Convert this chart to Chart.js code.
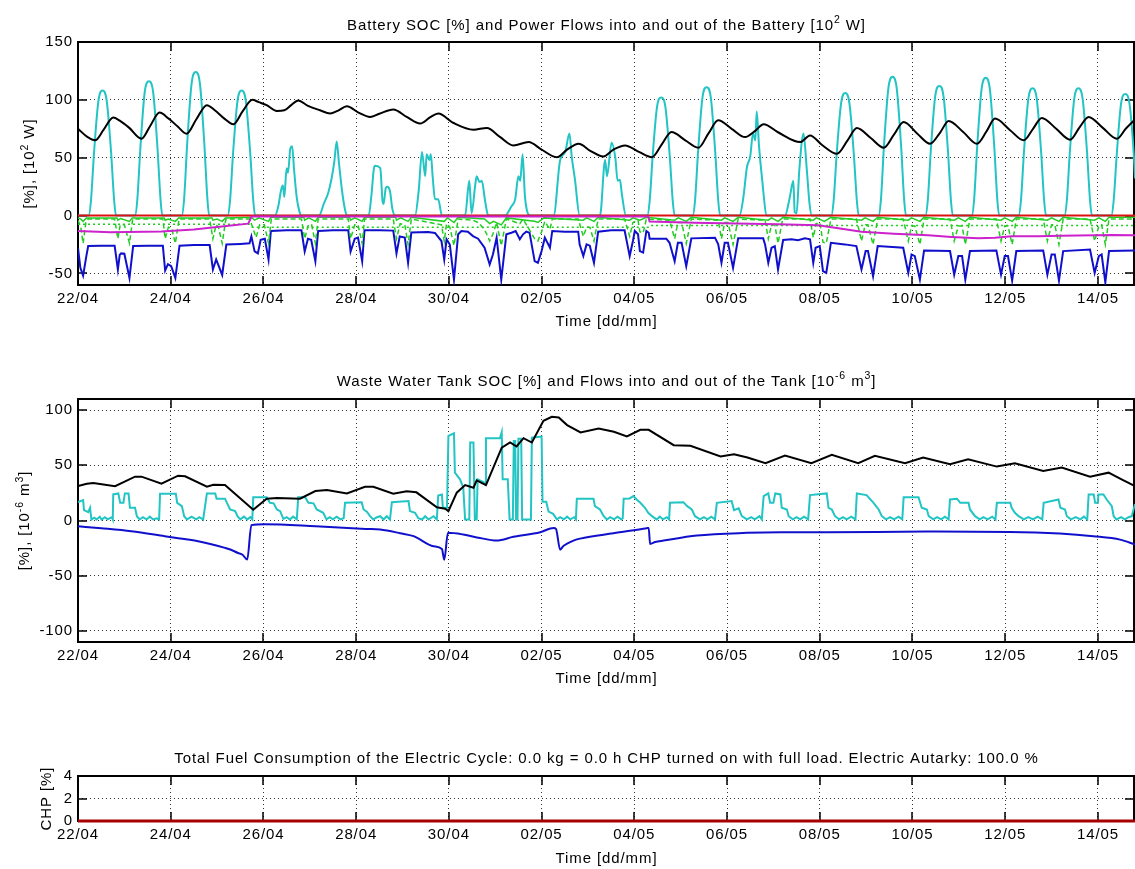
<!DOCTYPE html>
<html>
<head>
<meta charset="utf-8">
<script src="https://cdn.jsdelivr.net/npm/chart.js@4"></script>
<style>
html, body { margin: 0; padding: 0; background: #fff; }
#wrap { position: relative; width: 1135px; height: 869px; overflow: hidden; }
canvas { position: absolute; left: 0; }
</style>
</head>
<body>
<div id="wrap">
<canvas id="battery" width="1135" height="330" style="top:0;width:1135px;height:330px"></canvas>
<canvas id="tank" width="1135" height="370" style="top:330px;width:1135px;height:370px"></canvas>
<canvas id="chp" width="1135" height="169" style="top:700px;width:1135px;height:169px"></canvas>
</div>
<script>
// time axis: days since 22/04 00:00
var xMax = 22.8;
var xTickLabels = ['22/04','24/04','26/04','28/04','30/04','02/05','04/05','06/05','08/05','10/05','12/05','14/05'];

// ---- battery: SOC [%] and power flows [10^2 W] ----
var batSoc = [[0,75],[0.2,68],[0.37,65],[0.55,74],[0.76,84.7],[0.9,82],[1.1,76],[1.37,66.4],[1.55,77],[1.76,89],[1.95,84],[2.15,77],[2.34,70.8],[2.55,83],[2.78,95.4],[2.95,91],[3.15,84],[3.35,78.9],[3.55,90],[3.76,100],[3.9,98],[4.07,95.4],[4.29,90.4],[4.45,91],[4.6,95.5],[4.75,99.5],[4.95,95],[5.22,91],[5.44,88.2],[5.6,90.5],[5.8,94.5],[6.05,89],[6.3,85.2],[6.5,88],[6.8,91.6],[7.1,85],[7.38,79.5],[7.6,85],[7.77,88.2],[8.1,80],[8.53,74.2],[8.82,75.7],[9.1,68],[9.39,60.6],[9.72,63.5],[10.0,57],[10.33,50.4],[10.55,57],[10.8,62.1],[11.05,56],[11.33,51],[11.55,57],[11.8,60.6],[12.1,55],[12.38,50.4],[12.6,62],[12.8,72.2],[13.1,65],[13.38,58.6],[13.6,71],[13.81,82.3],[14.1,75],[14.39,67.8],[14.6,73],[14.79,78.9],[15.1,72],[15.58,63.5],[15.79,69.3],[16.05,61],[16.37,53.4],[16.6,65],[16.8,75.7],[17.1,67],[17.38,58.6],[17.6,70],[17.81,80.9],[18.1,71],[18.38,62.1],[18.6,72],[18.78,81.8],[19.1,72],[19.39,62.1],[19.6,73],[19.78,83.8],[20.1,74],[20.4,65],[20.6,75],[20.79,84.4],[21.1,75],[21.4,65.6],[21.6,76],[21.8,85.2],[22.1,76],[22.41,66.4],[22.6,75],[22.8,83]];

var batPv = [[0,0],
  [0.23,0],[0.28,13],[0.345,54],[0.44,99],[0.53,108],[0.62,99],[0.715,54],[0.78,13],[0.82,0],
  [1.23,0],[1.28,14],[1.345,58],[1.44,107],[1.53,116],[1.62,107],[1.715,58],[1.78,14],[1.82,0],
  [2.24,0],[2.29,15],[2.355,62],[2.45,114],[2.54,124],[2.63,114],[2.725,62],[2.79,15],[2.83,0],
  [3.23,0],[3.28,13],[3.345,54],[3.44,99],[3.53,108],[3.62,99],[3.715,54],[3.78,13],[3.82,0],
  [4.25,0],[4.32,8],[4.38,22],[4.42,26],[4.45,16],[4.5,41],[4.53,37],[4.58,58],[4.62,60],[4.66,40],[4.72,15],[4.78,3],[4.82,0],
  [5.2,0],[5.3,10],[5.4,20],[5.47,32],[5.53,47],[5.58,64],[5.63,45],[5.7,20],[5.76,5],[5.8,0],
  [6.27,0],[6.33,18],[6.38,40],[6.41,43],[6.52,41],[6.57,12],[6.59,10],[6.64,24],[6.67,25],[6.73,21],[6.78,6],[6.84,0],
  [7.27,0],[7.35,22],[7.42,55],[7.49,34],[7.52,53],[7.58,48],[7.61,53],[7.65,34],[7.70,14],[7.77,14],[7.85,0],
  [8.35,0],[8.44,30],[8.49,2],[8.57,27],[8.6,34],[8.66,29],[8.71,30],[8.78,13],[8.85,0],
  [9.21,0],[9.35,8],[9.43,14],[9.5,34],[9.54,30],[9.59,53],[9.64,17],[9.68,5],[9.75,0],
  [10.26,0],[10.4,48],[10.51,55],[10.6,71],[10.65,51],[10.72,31],[10.82,0],
  [11.26,0],[11.37,48],[11.41,34],[11.51,63],[11.59,50],[11.64,30],[11.69,31],[11.73,19],[11.82,0],
  [12.28,0],[12.33,12],[12.395,51],[12.49,94],[12.58,102],[12.67,94],[12.765,51],[12.83,12],[12.87,0],
  [13.26,0],[13.31,13],[13.375,55],[13.47,102],[13.56,111],[13.65,102],[13.745,55],[13.81,13],[13.85,0],
  [14.27,0],[14.35,15],[14.43,42],[14.5,51],[14.56,71],[14.61,65],[14.64,90],[14.69,60],[14.75,34],[14.86,0],
  [15.25,0],[15.35,15],[15.43,30],[15.46,3],[15.5,2],[15.56,40],[15.65,71],[15.72,40],[15.78,10],[15.83,0],
  [16.25,0],[16.3,13],[16.365,53],[16.46,97],[16.55,106],[16.64,97],[16.735,53],[16.8,13],[16.84,0],
  [17.27,0],[17.32,14],[17.385,60],[17.48,110],[17.57,120],[17.66,110],[17.755,60],[17.82,14],[17.86,0],
  [18.28,0],[18.33,13],[18.395,56],[18.49,103],[18.58,112],[18.67,103],[18.765,56],[18.83,13],[18.87,0],
  [19.28,0],[19.33,14],[19.395,59],[19.49,109],[19.58,119],[19.67,109],[19.765,59],[19.83,14],[19.87,0],
  [20.29,0],[20.34,13],[20.405,55],[20.5,101],[20.59,110],[20.68,101],[20.775,55],[20.84,13],[20.88,0],
  [21.28,0],[21.33,13],[21.395,55],[21.49,101],[21.58,110],[21.67,101],[21.765,55],[21.83,13],[21.87,0],
  [22.29,0],[22.34,13],[22.405,52],[22.5,97],[22.59,105],[22.68,97],[22.775,52],[22.8,32]];

var batLoad = [[0,-28],[0.05,-45],[0.11,-52],[0.18,-35],[0.22,-26.3],[0.5,-26],[0.79,-26],[0.86,-46.6],[0.9,-34],[0.93,-32.7],[1.0,-33],[1.11,-53.9],[1.19,-26.3],[1.5,-26],[1.83,-26],[1.88,-47.5],[1.94,-42],[2.01,-43.8],[2.1,-53.9],[2.19,-26],[2.5,-25.5],[2.84,-25.5],[2.91,-46.6],[2.98,-38],[3.02,-42],[3.11,-51.3],[3.2,-25],[3.5,-24.5],[3.7,-24],[3.74,-18],[3.81,-31],[3.88,-32.7],[3.94,-21],[4.03,-20],[4.11,-38],[4.16,-13.3],[4.5,-12.7],[4.82,-12.7],[4.89,-31],[4.96,-20],[5.03,-21],[5.12,-39.4],[5.18,-13.3],[5.5,-12.7],[5.83,-12.7],[5.88,-31],[5.97,-20],[6.04,-19],[6.13,-39.4],[6.18,-12.7],[6.5,-12.7],[6.8,-13],[6.87,-32.7],[6.94,-18],[7.05,-19],[7.12,-40.8],[7.19,-14.7],[7.55,-14.3],
  [7.7,-15],[7.84,-22],[7.9,-38],[7.95,-20.5],[8.02,-25],[8.11,-55.3],[8.2,-16.2],[8.27,-13.3],[8.41,-13.9],[8.52,-17.7],[8.63,-20],[8.77,-27.8],[8.88,-42.3],[8.95,-33.6],[9.03,-19.1],[9.13,-55.3],[9.24,-16.2],[9.35,-14.8],[9.44,-13.3],[9.53,-20.5],[9.6,-16.2],[9.67,-13.9],[9.74,-14.8],[9.85,-39.4],[9.92,-40.8],[10.0,-30.7],[10.07,-19.1],[10.18,-27.8],[10.23,-13.3],[10.5,-13.9],[10.79,-13.9],[10.82,-24.9],[10.9,-35],[10.97,-24.9],[11.04,-26],[11.13,-40.8],[11.22,-13.9],[11.5,-12.7],[11.79,-12.7],[11.85,-24.9],[11.9,-35],[11.97,-22],[12.01,-13.3],[12.08,-16.2],[12.12,-30.7],[12.19,-32],[12.26,-13.3],[12.31,-14.8],[12.33,-20],[12.69,-20],[12.76,-23.5],[12.87,-39.4],[12.94,-23.5],[13.02,-23.5],[13.12,-43.7],[13.23,-19.7],[13.74,-19.1],[13.81,-24.9],[13.88,-40.8],[13.95,-23.5],[14.02,-23.5],[14.13,-45.2],[14.24,-19.7],[14.78,-19.7],[14.82,-24.9],[14.89,-40.8],[14.96,-27.8],[15.03,-26.5],[15.1,-46.6],
  [15.21,-21.1],[15.39,-20.5],[15.53,-21.4],[15.68,-19.7],[15.79,-20.5],[15.86,-40.8],[15.91,-27.8],[16.0,-26.4],[16.07,-48],[16.14,-49.5],[16.24,-23.5],[16.54,-24.9],[16.79,-26.4],[16.9,-46.6],[16.99,-30.7],[17.04,-30.7],[17.15,-52.4],[17.25,-26.4],[17.8,-27.8],[17.91,-49.5],[17.98,-33.6],[18.05,-35],[18.16,-55.3],[18.25,-30.1],[18.81,-30.7],[18.9,-51],[18.99,-35],[19.07,-35],[19.14,-55.3],[19.24,-30.7],[19.81,-30.1],[19.91,-51],[19.99,-35],[20.06,-35],[20.15,-56.2],[20.24,-30.7],[20.82,-30.1],[20.91,-51],[21.0,-33.6],[21.07,-33.6],[21.16,-56.2],[21.25,-30.7],[21.83,-29.3],[21.93,-49.5],[22.02,-35],[22.08,-33.6],[22.16,-57.7],[22.24,-30.7],[22.8,-30.1]];

var batGreenDash = [[0,-4],[0.06,-10],[0.11,-24],[0.17,-6],[0.22,-3],[0.79,-3],[0.86,-20],[0.91,-8],[1.0,-8],[1.11,-24],[1.18,-3],[1.83,-3],[1.88,-20],[1.95,-10],[2.02,-11],[2.1,-24],[2.18,-3],[2.84,-3],[2.91,-20],[2.98,-8],[3.03,-10],[3.11,-24],[3.19,-3],[3.7,-3],[3.74,-7],[3.84,-19],[3.92,-8],[4.02,-8],[4.11,-24],[4.17,-3],[4.82,-3],[4.89,-20],[4.97,-8],[5.04,-8],[5.12,-24],[5.18,-3],[5.83,-3],[5.88,-20],[5.97,-8],[6.04,-8],[6.13,-24],[6.18,-3],[6.8,-3],[6.87,-20],[6.95,-7],[7.05,-8],[7.12,-25],[7.19,-3],[7.84,-8],[7.9,-22],[7.95,-7],[8.02,-10],[8.11,-26],[8.2,-3],[8.52,-4],[8.63,-6],[8.77,-12],[8.88,-22],[8.95,-16],[9.03,-6],[9.13,-26],[9.24,-3],[9.53,-7],[9.6,-3],[9.85,-20],[9.92,-22],[10.0,-14],[10.07,-5],[10.18,-12],[10.23,-3],[10.79,-3],[10.9,-18],[10.97,-10],[11.04,-10],[11.13,-22],[11.22,-3],[11.79,-3],[11.9,-18],[11.97,-6],[12.08,-4],[12.12,-14],[12.19,-15],[12.26,-3],[12.76,-4],[12.87,-20],[12.94,-6],[13.02,-6],[13.12,-24],[13.23,-3],[13.81,-4],[13.88,-20],[13.95,-6],[14.02,-6],[14.13,-25],[14.24,-3],[14.82,-4],[14.89,-20],[14.96,-8],[15.03,-8],[15.1,-24],[15.2,-3],[15.79,-3],[15.86,-19],[15.92,-7],[16.0,-6],[16.07,-23],[16.14,-24],[16.24,-3],[16.79,-3],[16.9,-22],[16.98,-8],[17.04,-8],[17.15,-25],[17.25,-3],[17.8,-3],[17.91,-22],[17.98,-9],[18.05,-9],[18.16,-25],[18.25,-3],[18.81,-3],[18.9,-22],[18.99,-9],[19.07,-9],[19.14,-25],[19.24,-3],[19.81,-3],[19.91,-22],[19.99,-9],[20.06,-9],[20.15,-25],[20.24,-3],[20.82,-3],[20.91,-22],[21.0,-8],[21.07,-8],[21.16,-25],[21.25,-3],[21.83,-3],[21.93,-22],[22.02,-9],[22.08,-8],[22.16,-25],[22.24,-3],[22.8,-3]];

var batGreenSolid = [[0,-2],[0.06,-3],[0.11,-5],[0.18,-2],[0.84,-2],[0.86,-4],[0.92,-2.5],[1.11,-5],[1.17,-2],[1.86,-2],[1.88,-4],[1.95,-3],[2.1,-5],[2.17,-2],[2.89,-2],[2.91,-4],[3.0,-3],[3.11,-5],[3.18,-2],[3.74,-1.5],[3.81,-4],[3.9,-2],[4.11,-5],[4.16,-1.5],[4.87,-1.5],[4.89,-4],[4.98,-2],[5.12,-5],[5.18,-1.5],[5.86,-1.5],[5.88,-4],[5.97,-2],[6.13,-5],[6.18,-1.5],[6.85,-1.5],[6.87,-4],[6.96,-2],[7.12,-5],[7.19,-1.5],[7.9,-5],[7.97,-2],[8.11,-6],[8.2,-1.5],[8.77,-3],[8.88,-7],[8.96,-5],[9.13,-8],[9.24,-2],[9.85,-5],[9.92,-6],[10.05,-2],[10.9,-4],[10.97,-2],[11.13,-5],[11.22,-1.5],[11.9,-4],[11.97,-2],[12.12,-4],[12.26,-1.5],[12.87,-4],[12.95,-2],[13.12,-5],[13.23,-1.5],[13.88,-4],[13.95,-2],[14.13,-5],[14.24,-1.5],[14.89,-4],[14.96,-2],[15.1,-5],[15.21,-1.5],[15.86,-4],[15.93,-2],[16.1,-5],[16.24,-1.5],[16.9,-4],[16.98,-2],[17.15,-5],[17.25,-1.5],[17.91,-4],[17.98,-2],[18.16,-5],[18.25,-1.5],[18.9,-4],[18.99,-2],[19.14,-5],[19.24,-1.5],[19.91,-4],[19.99,-2],[20.15,-5],[20.24,-1.5],[20.91,-4],[21.0,-2],[21.16,-5],[21.25,-1.5],[21.93,-4],[22.02,-2],[22.16,-5],[22.24,-1.5],[22.8,-1.5]];

var batGreenDot = [[0,-7.5],[3.7,-7.5],[3.76,-10],[12.3,-10],[12.34,-8.5],[22.8,-8.5]];

var batMagenta = [[0,-13.3],[0.7,-14.5],[1.8,-13.8],[2.5,-12],[3.2,-9],[3.67,-7],[3.72,-3],[3.74,-0.8],[12.3,-0.8],[12.33,-5.2],[13.3,-6.1],[15.1,-7.5],[15.96,-8.4],[16.4,-11],[16.9,-14],[17.6,-15.7],[18.34,-17.1],[18.84,-18.5],[19.42,-19.7],[19.78,-19.1],[20.14,-17.9],[20.71,-17.9],[21.2,-17.4],[22.29,-16.8],[22.8,-17.1]];

var batChp = [[0,0],[22.8,0]];

// ---- waste water tank: SOC [%] and flows [10^-6 m^3] ----
var tankSoc = [[0,31.2],[0.19,33.3],[0.33,33.9],[0.8,31],[1.23,39.7],[1.37,39.7],[1.8,33.3],[2.16,40.6],[2.31,40],[2.78,30.6],[2.92,32.4],[3.17,32.1],[3.78,9.7],[4.07,19.7],[4.29,20.3],[4.79,19.7],[5.12,26.7],[5.37,27.6],[5.8,24.5],[6.19,30.6],[6.37,30.6],[6.8,24.2],[7.09,26.4],[7.3,25.5],[7.74,12],[7.92,10.6],[7.99,8.5],[8.17,25.2],[8.35,32.1],[8.53,29.7],[8.6,36.4],[8.8,32.1],[9.14,66],[9.32,70.6],[9.46,67],[9.61,74.5],[9.79,70.6],[10.04,90.3],[10.22,93.9],[10.37,93.3],[10.55,86.4],[10.84,79.7],[11.23,83.3],[11.56,80.3],[11.84,76.1],[12.13,82.1],[12.31,82.1],[12.85,68.2],[13.21,67.6],[13.86,57.9],[14.15,60],[14.44,57],[14.83,51.8],[15.25,58.8],[15.82,51.8],[16.26,59.4],[16.83,51.8],[17.19,58.5],[17.84,51.8],[18.23,57],[18.81,50.9],[19.2,55.5],[19.82,48.8],[20.21,51.8],[20.82,44.8],[21.22,47.9],[21.83,39.7],[22.23,43.3],[22.51,37.3],[22.8,31.2]];

var tankIn = [[0,16.6],[0.11,18.5],[0.13,9.4],[0.22,7.6],[0.26,11.5],[0.29,0.9],[0.35,2.5],[0.4,1],[0.47,3.5],[0.51,0.9],[0.58,3],[0.64,1],[0.73,3],[0.75,1],
  [0.76,23.6],[0.87,24.5],[0.91,16],[0.98,16],[1.01,24.5],[1.09,24.5],[1.12,11.5],[1.23,11.5],[1.27,3.9],[1.33,0.9],[1.4,3],[1.48,1],[1.55,3.5],[1.62,1],[1.7,2],[1.75,1],
  [1.77,24.2],[2.11,24.2],[2.14,16],[2.24,13],[2.29,3.9],[2.35,1],[2.45,3.5],[2.55,1],[2.62,3],[2.7,0.9],
  [2.78,24.5],[2.96,24.5],[2.99,19.8],[3.17,19.8],[3.28,10],[3.39,8.5],[3.44,3.9],[3.5,1],[3.58,3.5],[3.65,1],[3.72,3],[3.76,1],
  [3.78,21],[4.07,21],[4.14,16],[4.22,15.5],[4.29,10],[4.36,8.5],[4.43,1.5],[4.5,3],[4.57,1],[4.64,3.5],[4.72,1],
  [4.75,21],[4.9,21],[4.97,16],[5.08,15.5],[5.15,10],[5.29,7],[5.36,1],[5.43,3],[5.5,1],[5.58,3.5],[5.66,1],[5.73,2],
  [5.76,16],[6.12,16.6],[6.16,10],[6.23,8],[6.3,3.9],[6.37,1],[6.45,3],[6.52,3.9],[6.59,0.9],[6.66,3.9],[6.73,0.9],
  [6.77,16.6],[7.13,17.6],[7.16,8.5],[7.27,7],[7.34,2],[7.42,0.9],[7.49,3.9],[7.56,0.9],[7.67,3.9],[7.74,1],
  [7.77,22.7],[7.85,23.6],[7.87,11.5],[7.96,11.5],[7.99,76.6],[8.11,79],[8.13,43.3],[8.24,37.3],[8.31,30],[8.35,1],[8.44,1],[8.46,70.6],[8.53,70.6],[8.56,1],[8.6,1],[8.62,37.3],[8.78,34],[8.8,74.5],[9.1,74.5],[9.14,80],[9.16,37.3],[9.27,37.3],[9.31,1],[9.38,1],[9.4,72],[9.43,72],[9.45,1],[9.48,1],[9.5,74],[9.56,74],[9.58,1],[9.77,1],[9.79,75],[10.0,76],[10.02,17],[10.1,17],[10.15,8],[10.25,6],[10.33,1],[10.4,3],[10.48,1],[10.55,3.5],[10.62,1],[10.7,3],[10.74,1],
  [10.76,19.7],[11.12,19.7],[11.15,13],[11.26,10],[11.34,3.9],[11.41,1],[11.48,3],[11.56,1],[11.64,3.5],[11.72,1],[11.75,2],
  [11.77,19.7],[11.9,20],[11.98,22.1],[12.05,19],[12.13,16],[12.23,11.5],[12.3,7],[12.38,3.9],[12.48,1],[12.55,3.5],[12.62,1],[12.7,3],[12.75,1],
  [12.77,16],[13.06,16.6],[13.14,13],[13.24,10],[13.31,3.9],[13.42,1],[13.5,3],[13.58,1],[13.66,3.5],[13.74,1],
  [13.78,16],[14.1,17.6],[14.15,9.4],[14.25,11],[14.32,3.9],[14.43,1],[14.52,3],[14.6,1],[14.7,3.9],[14.75,1],
  [14.79,22],[14.89,24.5],[14.93,16],[15.0,16],[15.04,24.5],[15.15,23.6],[15.18,11.5],[15.29,10],[15.33,3.9],[15.42,1],[15.5,3],[15.58,1],[15.66,3.5],[15.75,1],
  [15.79,23],[16.15,24.5],[16.19,11.5],[16.26,10],[16.33,3.9],[16.42,1],[16.5,3],[16.58,1],[16.68,3.5],[16.77,1],
  [16.8,24.5],[17.01,23],[17.16,16],[17.27,10],[17.34,3.9],[17.43,1],[17.52,3],[17.6,1],[17.7,3.5],[17.78,1],
  [17.81,21],[18.13,21],[18.2,11.5],[18.31,10],[18.35,3.9],[18.45,1],[18.53,3],[18.62,1],[18.7,3.5],[18.78,1],
  [18.81,19],[18.96,19.7],[19.03,16],[19.21,16],[19.24,10],[19.35,3.9],[19.45,1],[19.53,3],[19.62,1],[19.72,3.5],[19.79,1],
  [19.82,16],[20.11,16],[20.14,11.5],[20.21,7],[20.29,3.9],[20.4,1],[20.5,3],[20.6,1],[20.7,3.5],[20.8,1],
  [20.83,16],[21.15,19],[21.19,11.5],[21.29,10],[21.33,3.9],[21.42,1],[21.52,3],[21.62,1],[21.7,3.5],[21.77,1],
  [21.8,23.6],[21.91,23.6],[21.94,16],[22.0,16],[22.01,23.6],[22.12,23.6],[22.19,19],[22.3,13],[22.34,3.9],[22.4,1],[22.5,3],[22.58,1],[22.66,3],[22.73,3.9],[22.8,15]];

var tankOut = [[0,-5.2],[0.5,-7],[1.15,-9.7],[1.87,-14.2],[2.2,-16.3],[2.59,-18.8],[3.17,-24.8],[3.3,-26.5],[3.45,-29.4],[3.55,-31],[3.65,-35.4],[3.74,-4.2],[4.03,-3.3],[5.13,-5.2],[6.21,-7.6],[6.52,-8.2],[6.95,-11.5],[7.24,-14.2],[7.67,-23.3],[7.85,-25.8],[7.9,-35.5],[7.98,-11.2],[8.31,-12.7],[8.67,-15.8],[9.03,-18.2],[9.39,-14.8],[9.97,-10.6],[10.26,-6.7],[10.31,-7.5],[10.4,-26.4],[10.47,-23],[10.54,-21.2],[10.7,-18],[10.83,-16.4],[11.55,-11.5],[12.27,-7],[12.31,-6.7],[12.34,-21.2],[12.45,-19.5],[12.63,-18.2],[13.35,-13.6],[14.43,-11.2],[15.15,-10.6],[16.15,-10.6],[18.3,-10],[20.1,-10.3],[21.18,-11.8],[21.9,-14.2],[22.48,-17.3],[22.8,-21.8]];

// ---- CHP load [%] ----
var chpLoad = [[0,0],[22.8,0]];

var FONT = '"Liberation Sans", Arial, Helvetica, sans-serif';
var GRID = 'rgba(0,0,0,0.8)';
var SPACING = '0.9px';

function drawRich(ctx, parts, x, y, size) {
  var w = 0;
  parts.forEach(function (p) {
    ctx.font = (p[1] ? size * 0.7 : size) + 'px ' + FONT;
    w += ctx.measureText(p[0]).width;
  });
  var cx = x - w / 2;
  ctx.textAlign = 'left';
  parts.forEach(function (p) {
    var s = p[1] ? size * 0.7 : size;
    ctx.font = s + 'px ' + FONT;
    ctx.fillText(p[0], cx, p[1] ? y - size * 0.42 : y);
    cx += ctx.measureText(p[0]).width;
  });
}

// box, inward ticks and labels in the old matlab style
var matlabAxes = {
  id: 'matlabAxes',
  beforeDraw: function (chart) {
    chart.ctx.letterSpacing = SPACING;
  },
  beforeDatasetsDraw: function (chart, args, o) {
    var ctx = chart.ctx, a = chart.chartArea, xs = chart.scales.x, ys = chart.scales.y;
    var right = a.right - 1;
    ctx.save();
    ctx.strokeStyle = '#000';
    ctx.lineWidth = 1.5;
    ctx.beginPath();
    xs.ticks.forEach(function (t) {
      var px = Math.round(xs.getPixelForValue(t.value));
      ctx.moveTo(px, a.bottom); ctx.lineTo(px, a.bottom - o.tick);
      ctx.moveTo(px, a.top); ctx.lineTo(px, a.top + o.tick);
    });
    ys.ticks.forEach(function (t) {
      var py = Math.round(ys.getPixelForValue(t.value));
      ctx.moveTo(a.left, py); ctx.lineTo(a.left + o.tick, py);
      ctx.moveTo(right, py); ctx.lineTo(right - o.tick, py);
    });
    ctx.stroke();
    ctx.lineWidth = 2;
    ctx.strokeRect(a.left, a.top, right - a.left, a.bottom - a.top);
    ctx.restore();
  },
  afterDraw: function (chart, args, o) {
    var ctx = chart.ctx, a = chart.chartArea;
    ctx.save();
    ctx.letterSpacing = SPACING;
    ctx.fillStyle = '#000';
    ctx.textBaseline = 'alphabetic';
    var cx = (a.left + a.right) / 2;
    drawRich(ctx, o.title, cx, o.titleY, 15);
    drawRich(ctx, [['Time [dd/mm]']], cx, a.bottom + o.xlabelGap, 15);
    ctx.translate(o.ylabelX, (a.top + a.bottom) / 2);
    ctx.rotate(-Math.PI / 2);
    drawRich(ctx, o.ylabel, 0, 0, 15);
    ctx.restore();
  }
};

function pts(arr) {
  return arr.map(function (p) { return {x: p[0], y: p[1]}; });
}

function series(arr, color, width, extra) {
  var d = {data: pts(arr), borderColor: color, borderWidth: width, pointRadius: 0, fill: false, tension: 0};
  for (var k in extra) d[k] = extra[k];
  return d;
}

function makeChart(id, datasets, cfg) {
  return new Chart(document.getElementById(id), {
    type: 'line',
    data: {datasets: datasets},
    plugins: [matlabAxes],
    options: {
      responsive: false,
      animation: false,
      events: [],
      devicePixelRatio: 1,
      layout: {padding: {top: cfg.top, left: 0, right: 0, bottom: 0}},
      plugins: {
        legend: {display: false},
        tooltip: {enabled: false},
        matlabAxes: cfg.axes
      },
      scales: {
        x: {
          type: 'linear', min: 0, max: xMax,
          afterFit: function (s) { s.height = cfg.xHeight; },
          ticks: {
            stepSize: 2, includeBounds: false, autoSkip: false, maxRotation: 0,
            padding: 5, color: '#000', font: {family: FONT, size: 15},
            callback: function (v, i) { return xTickLabels[i]; }
          },
          grid: {color: GRID, lineWidth: 1, drawTicks: false},
          border: {display: false, dash: [1, 3]}
        },
        y: {
          type: 'linear', min: cfg.yMin, max: cfg.yMax,
          afterFit: function (s) { s.width = 78; },
          ticks: {
            stepSize: cfg.yStep, includeBounds: false, padding: 5,
            color: '#000', font: {family: FONT, size: 15}
          },
          grid: {color: GRID, lineWidth: 1, drawTicks: false},
          border: {display: false, dash: [1, 3]}
        }
      }
    }
  });
}

makeChart('battery', [
  series(batMagenta, '#cc22cc', 2),
  series(batChp, '#dd1111', 2),
  series(batSoc, '#000000', 2, {cubicInterpolationMode: 'monotone'}),
  series(batPv, '#22c4c4', 2, {cubicInterpolationMode: 'monotone'}),
  series(batGreenSolid, '#22cc22', 1.5),
  series(batGreenDash, '#22cc22', 1.5, {borderDash: [5, 3]}),
  series(batGreenDot, '#22cc22', 1.5, {borderDash: [2, 3]}),
  series(batLoad, '#1010cc', 2)
], {
  top: 42, xHeight: 45, yMin: -60, yMax: 150, yStep: 50,
  axes: {
    tick: 9, titleY: 29.5, xlabelGap: 41, ylabelX: 34,
    title: [['Battery SOC [%] and Power Flows into and out of the Battery [10'], ['2', 1], [' W]']],
    ylabel: [['[%], [10'], ['2', 1], [' W]']]
  }
});

makeChart('tank', [
  series(tankSoc, '#000000', 2),
  series(tankIn, '#22c4c4', 2),
  series(tankOut, '#1010cc', 2, {cubicInterpolationMode: 'monotone'})
], {
  top: 69, xHeight: 58, yMin: -110, yMax: 110, yStep: 50,
  axes: {
    tick: 9, titleY: 55.7, xlabelGap: 41, ylabelX: 29,
    title: [['Waste Water Tank SOC [%] and Flows into and out of the Tank [10'], ['-6', 1], [' m'], ['3', 1], [']']],
    ylabel: [['[%], [10'], ['-6', 1], [' m'], ['3', 1], [']']]
  }
});

makeChart('chp', [
  series(chpLoad, '#a80000', 3, {clip: false})
], {
  top: 76, xHeight: 48, yMin: 0, yMax: 4, yStep: 2,
  axes: {
    tick: 9, titleY: 63.3, xlabelGap: 42, ylabelX: 51,
    title: [['Total Fuel Consumption of the Electric Cycle: 0.0 kg = 0.0 h CHP turned on with full load. Electric Autarky: 100.0 %']],
    ylabel: [['CHP [%]']]
  }
});
</script>
</body>
</html>
